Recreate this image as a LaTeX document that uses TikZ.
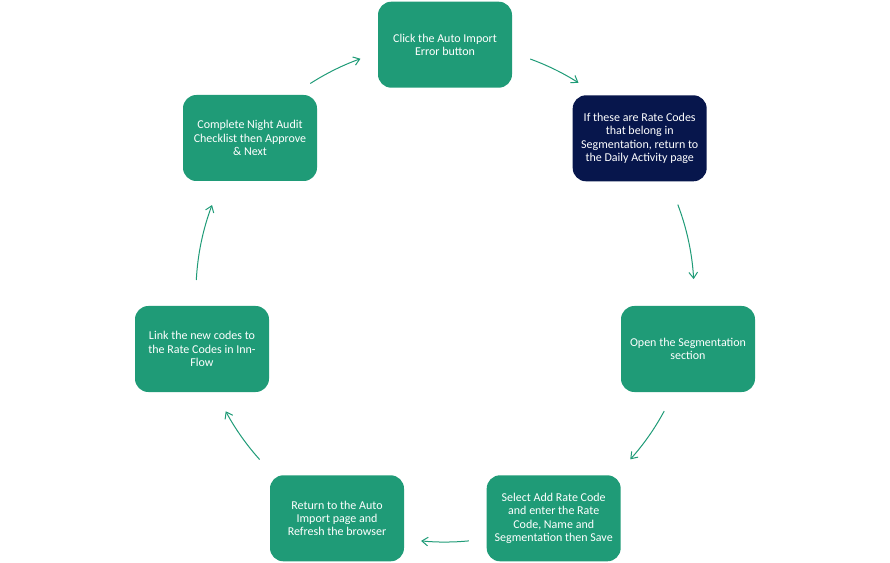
\documentclass[tikz,border=0pt]{standalone}
\usepackage{fontspec}
\setmainfont{Carlito}
\usepackage{tikz}
\usetikzlibrary{arrows.meta}

\definecolor{stepgreen}{RGB}{31,155,119}
\definecolor{stepnavy}{RGB}{7,22,76}

\tikzset{
  stepbox/.style={draw=none, fill=stepgreen, rounded corners=10pt, minimum width=100.5pt,
    minimum height=64.5pt, inner sep=0.75pt, align=center, text=white,
    font=\fontsize{9}{10}\selectfont},
  flow/.style={draw=stepgreen, line width=0.75pt, -{Straight Barb[length=4.5pt,width=6.5pt]}}
}

\begin{document}
\begin{tikzpicture}[x=0.75pt,y=0.75pt,yscale=-1,xscale=1]
    \useasboundingbox (0,0) rectangle (890,563); %set diagram to 890 x 563

    %Shape: Rounded Rect [id:click]
    \node [stepbox] (click) at (445,44.7) {Click the Auto Import\\Error button};
    %Shape: Rounded Rect [id:ratecodes]
    \node [stepbox, fill=stepnavy] (ratecodes) at (639.7,138.3) {If these are Rate Codes\\that belong in\\Segmentation, return to\\the Daily Activity page};
    %Shape: Rounded Rect [id:openseg]
    \node [stepbox] (openseg) at (688,349) {Open the Segmentation\\section};
    %Shape: Rounded Rect [id:addrate]
    \node [stepbox] (addrate) at (553.7,518.3) {Select Add Rate Code\\and enter the Rate\\Code, Name and\\Segmentation then Save};
    %Shape: Rounded Rect [id:refresh]
    \node [stepbox] (refresh) at (337,518.3) {Return to the Auto\\Import page and\\Refresh the browser};
    %Shape: Rounded Rect [id:linkcodes]
    \node [stepbox] (linkcodes) at (202,349) {Link the new codes to\\the Rate Codes in Inn-\\Flow};
    %Shape: Rounded Rect [id:audit]
    \node [stepbox] (audit) at (250,138) {Complete Night Audit\\Checklist then Approve\\\& Next};

    % Arc start points (circle centre 445,293 radius 249)
    \coordinate (clicktoratecodes) at (530.2,59.0);
    \coordinate (ratecodestoopenseg) at (677.8,204.6);
    \coordinate (opensegtoaddrate) at (664.2,411.1);
    \coordinate (addratetorefresh) at (468.8,540.9);
    \coordinate (refreshtolinkcodes) at (259.6,459.5);
    \coordinate (linkcodestoaudit) at (196.3,280.0);
    \coordinate (audittoclick) at (310.3,83.5);

    %Curve Lines
    \draw [flow] (clicktoratecodes) arc [start angle=-70, end angle=-57.6, radius=249];
    \draw [flow] (ratecodestoopenseg) arc [start angle=-20.8, end angle=-3.2, radius=249];
    \draw [flow] (opensegtoaddrate) arc [start angle=28.3, end angle=41.9, radius=249];
    \draw [flow] (addratetorefresh) arc [start angle=84.5, end angle=95.5, radius=249];
    \draw [flow] (refreshtolinkcodes) arc [start angle=138.1, end angle=151.7, radius=249];
    \draw [flow] (linkcodestoaudit) arc [start angle=183, end angle=200.7, radius=249];
    \draw [flow] (audittoclick) arc [start angle=237.3, end angle=250.2, radius=249];

\end{tikzpicture}
\end{document}
